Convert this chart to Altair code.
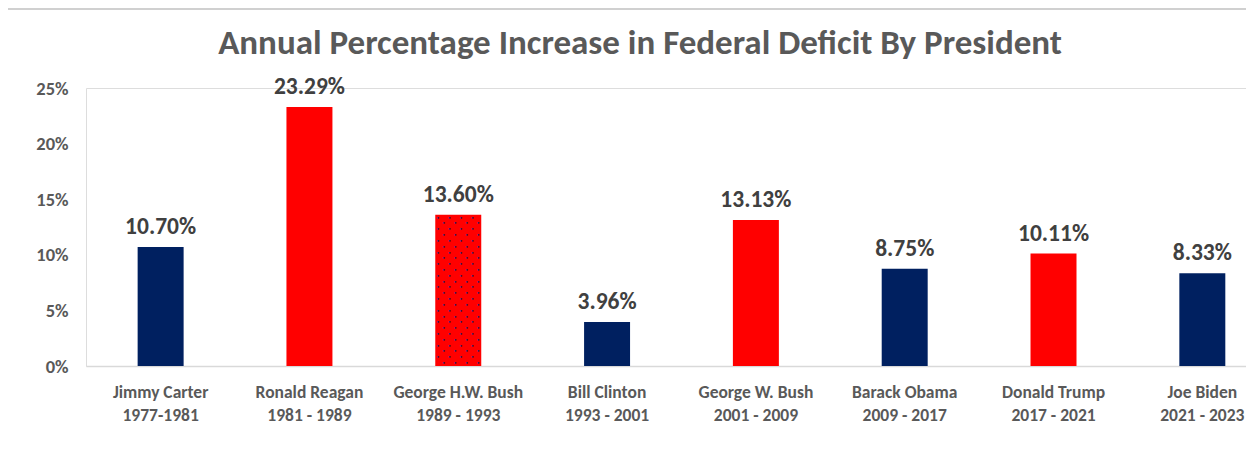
import altair as alt
import pandas as pd

presidents = [
    ["Jimmy Carter", "1977-1981"],
    ["Ronald Reagan", "1981 - 1989"],
    ["George H.W. Bush", "1989 - 1993"],
    ["Bill Clinton", "1993 - 2001"],
    ["George W. Bush", "2001 - 2009"],
    ["Barack Obama", "2009 - 2017"],
    ["Donald Trump", "2017 - 2021"],
    ["Joe Biden", "2021 - 2023"],
]
values = [10.70, 23.29, 13.60, 3.96, 13.13, 8.75, 10.11, 8.33]
party = ["D", "R", "R", "D", "R", "D", "R", "D"]
patterned = [False, False, True, False, False, False, False, False]

keys = [p[0] + "|" + p[1] for p in presidents]
df = pd.DataFrame({
    "key": keys,
    "value": [v / 100 for v in values],
    "label": [f"{v:.2f}%" for v in values],
    "party": party,
})

# dotted texture (staggered grid) for the patterned bar(s)
n_rows, n_cols = 26, 8
dots = []
for k, v, pat in zip(keys, values, patterned):
    if not pat:
        continue
    for r in range(n_rows):
        for c in range(n_cols):
            if (r + c) % 2 == 0:
                dots.append({"key": k, "col": c,
                             "y": v / 100 * (n_rows - r - 0.5) / n_rows})
dots_df = pd.DataFrame(dots)

FONT = "Carlito, Lato, sans-serif"
GRAY = "#595959"

xenc = alt.X(
    "key:N", sort=keys, title=None,
    scale=alt.Scale(paddingInner=0.691, paddingOuter=0.243, align=0.714),
    axis=alt.Axis(
        labelExpr="split(datum.label, '|')", labelAngle=0, labelFont=FONT,
        labelFontSize=17.5, labelFontWeight="bold", labelColor=GRAY,
        labelLineHeight=23, labelPadding=17, ticks=False,
        domainColor="#d9d9d9", domainWidth=1.5,
    ),
)
yenc = alt.Y(
    "value:Q", title=None,
    scale=alt.Scale(domain=[0, 0.25], nice=False),
    axis=alt.Axis(
        values=[0, 0.05, 0.10, 0.15, 0.20, 0.25], format=".0%",
        labelFont=FONT, labelFontSize=18.5, labelFontWeight="bold",
        labelColor=GRAY, labelPadding=18, ticks=False, domain=False, grid=False,
    ),
)

bars = alt.Chart(df).mark_bar().encode(
    x=xenc, y=yenc,
    color=alt.Color("party:N", scale=alt.Scale(domain=["D", "R"], range=["#002060", "#ff0000"]), legend=None),
)

labels = alt.Chart(df).mark_text(
    baseline="bottom", dy=-8, font=FONT, fontSize=23.5, fontWeight="bold", color="#404040"
).encode(x=alt.X("key:N", sort=keys), y="value:Q", text="label:N")

dot_layers = []
for c in range(n_cols):
    dot_layers.append(
        alt.Chart(dots_df).transform_filter(alt.datum.col == c).mark_text(
            text="•", font="DejaVu Sans", fontSize=6, color="#1a1f6e",
            baseline="middle", align="center", dx=(c - 3.5) * 5.75,
        ).encode(x=alt.X("key:N", sort=keys), y="y:Q")
    )

border = alt.Chart(df).mark_rule(color="#d0d0d0", strokeWidth=2).encode(
    x=alt.value(-86), x2=alt.value(1200), y=alt.value(-79)
)

chart = alt.layer(bars, *dot_layers, labels, border).properties(
    width=1160, height=278,
    title=alt.TitleParams(
        "Annual Percentage Increase in Federal Deficit By President",
        font=FONT, fontSize=35, fontWeight="bold", color=GRAY,
        anchor="middle", dx=-26, offset=-88, baseline="bottom",
    ),
    autosize=alt.AutoSizeParams(type="none"),
    padding={"left": 78, "top": 80, "right": 0, "bottom": 60},
).configure_view(strokeWidth=0).configure(background="white")

chart.save("out.html", embed_options={"renderer": "svg", "actions": False})
